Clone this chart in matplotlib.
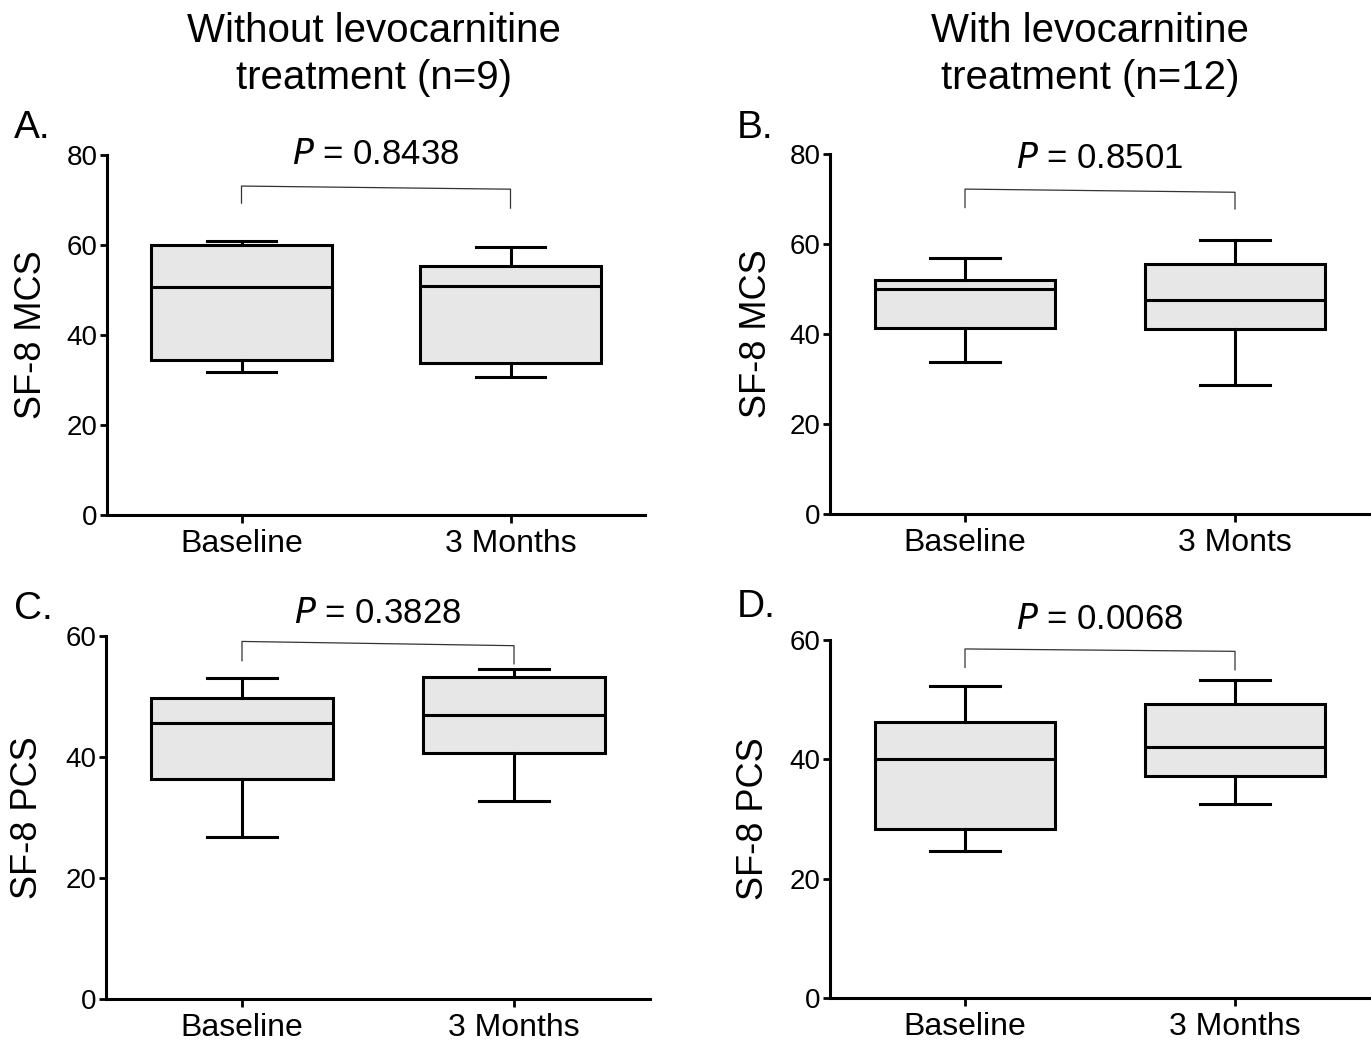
import matplotlib
matplotlib.use('Agg')
import matplotlib.pyplot as plt

plt.rcParams['font.family'] = ['Liberation Sans', 'DejaVu Sans']

groups = ['Baseline', '3 Months']
groups_b = ['Baseline', '3 Monts']

# box stats per panel: [baseline, 3 months]
a_whislo = [31.8, 30.7]
a_q1 = [34.4, 33.8]
a_med = [50.7, 50.9]
a_q3 = [60.0, 55.3]
a_whishi = [60.9, 59.6]

b_whislo = [33.8, 28.7]
b_q1 = [41.4, 41.1]
b_med = [50.0, 47.6]
b_q3 = [52.1, 55.6]
b_whishi = [56.8, 61.0]

c_whislo = [26.8, 32.7]
c_q1 = [36.4, 40.7]
c_med = [45.7, 46.9]
c_q3 = [49.75, 53.3]
c_whishi = [53.0, 54.6]

d_whislo = [24.7, 32.5]
d_q1 = [28.4, 37.2]
d_med = [40.0, 42.0]
d_q3 = [46.2, 49.3]
d_whishi = [52.3, 53.3]

p_values = ['0.8438', '0.8501', '0.3828', '0.0068']

W, H = 1371, 1045
fig = plt.figure(figsize=(W / 100, H / 100), dpi=100)


def px_axes(left, right, top, bottom):
    return fig.add_axes([left / W, 1 - bottom / H, (right - left) / W, (bottom - top) / H])


def draw_panel(ax, whislo, q1, med, q3, whishi, labels, ymax, ylabel, p_text,
               bracket_top, bracket_bot, p_y, letter, letter_xy, label_x):
    stats = []
    for i in range(len(labels)):
        stats.append({'whislo': whislo[i], 'q1': q1[i], 'med': med[i],
                      'q3': q3[i], 'whishi': whishi[i], 'fliers': []})
    lw = 2.2
    ax.bxp(stats, positions=range(len(labels)), widths=0.67, patch_artist=True,
           showfliers=False,
           boxprops=dict(facecolor='#e7e7e7', edgecolor='black', linewidth=lw),
           medianprops=dict(color='black', linewidth=lw),
           whiskerprops=dict(color='black', linewidth=lw),
           capprops=dict(color='black', linewidth=lw),
           capwidths=0.26)
    ax.set_xlim(-0.5, 1.5)
    ax.set_ylim(0, ymax)
    ax.set_yticks(range(0, ymax + 1, 20))
    ax.set_xticks(range(len(labels)))
    ax.set_xticklabels(labels, fontsize=23)
    ax.tick_params(axis='y', labelsize=20, length=5, width=2, pad=2)
    ax.tick_params(axis='x', length=6, width=2, pad=4)
    for s in ['top', 'right']:
        ax.spines[s].set_visible(False)
    for s in ['left', 'bottom']:
        ax.spines[s].set_linewidth(2.2)
    ax.set_ylabel(ylabel, fontsize=26)
    ax.yaxis.set_label_coords(label_x, 0.5)
    # significance bracket
    ax.plot([0, 0, 1, 1], [bracket_bot[0], bracket_top[0], bracket_top[1], bracket_bot[1]],
            color='#333333', linewidth=0.9, clip_on=False)
    ax.text(0.5, p_y, r'$\it{P}$ = ' + p_text, ha='center', va='center', fontsize=25,
            clip_on=False)
    fig.text(letter_xy[0] / W, 1 - letter_xy[1] / H, letter, fontsize=28,
             ha='left', va='baseline')


ax_a = px_axes(107, 645, 155, 515)
draw_panel(ax_a, a_whislo, a_q1, a_med, a_q3, a_whishi, groups, 80, 'SF-8 MCS',
           p_values[0], [73.1, 72.4], [69.3, 68.2], 80.0, 'A.', (14, 138), -0.108)

ax_b = px_axes(830, 1370, 154, 514)
draw_panel(ax_b, b_whislo, b_q1, b_med, b_q3, b_whishi, groups_b, 80, 'SF-8 MCS',
           p_values[1], [72.2, 71.5], [68.1, 67.8], 78.9, 'B.', (737, 138), -0.104)

ax_c = px_axes(106, 650, 636, 999)
draw_panel(ax_c, c_whislo, c_q1, c_med, c_q3, c_whishi, groups, 60, 'SF-8 PCS',
           p_values[2], [59.1, 58.4], [55.9, 55.4], 63.7, 'C.', (14, 619), -0.112)

ax_d = px_axes(830, 1370, 640, 998)
draw_panel(ax_d, d_whislo, d_q1, d_med, d_q3, d_whishi, groups, 60, 'SF-8 PCS',
           p_values[3], [58.5, 58.1], [55.4, 55.0], 63.5, 'D.', (737, 617), -0.110)

fig.text(374 / W, 1 - 55 / H, 'Without levocarnitine\ntreatment (n=9)', ha='center',
         va='center', fontsize=29, linespacing=1.3)
fig.text(1090 / W, 1 - 55 / H, 'With levocarnitine\ntreatment (n=12)', ha='center',
         va='center', fontsize=29, linespacing=1.3)

fig.savefig('out.png', dpi=100)
